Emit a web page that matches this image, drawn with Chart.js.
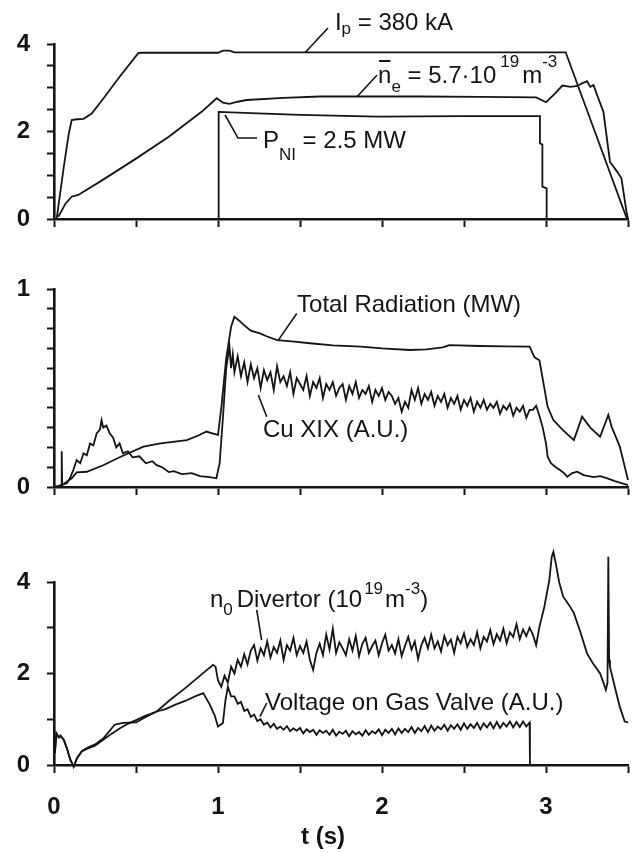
<!DOCTYPE html>
<html>
<head>
<meta charset="utf-8">
<title>Discharge traces</title>
<script src="https://cdn.jsdelivr.net/npm/chart.js@4.4.0/dist/chart.umd.min.js"></script>
<style>
  html, body { margin: 0; padding: 0; background: #fff; }
  #wrap { position: relative; width: 632px; height: 853px; overflow: hidden; background: #fff; }
  canvas { position: absolute; left: 0; }
</style>
</head>
<body>
<div id="wrap">
  <canvas id="topChart" width="632" height="250" style="top:0px"></canvas>
  <canvas id="midChart" width="632" height="270" style="top:250px"></canvas>
  <canvas id="botChart" width="632" height="333" style="top:520px"></canvas>
</div>
<script>
// ---- data (time in s) ----

// top panel
const ipTimes  = [0.016, 0.06, 0.09, 0.108, 0.14, 0.18, 0.23, 0.30, 0.40, 0.514, 0.53, 1.00, 1.03, 1.07, 1.10, 3.12, 3.49, 3.50];
const ipValues = [0, 1.2, 1.95, 2.26, 2.28, 2.29, 2.41, 2.75, 3.25, 3.79, 3.80, 3.80, 3.85, 3.85, 3.81, 3.81, 0.04, 0];

const neTimes  = [0.026, 0.07, 0.108, 0.148, 0.3, 0.5, 0.7, 0.9, 0.992, 1.03, 1.07, 1.12, 1.175, 1.4, 1.62, 2.23, 2.6, 2.94, 3.0, 3.05, 3.10, 3.15, 3.19, 3.22, 3.25, 3.27, 3.29, 3.31, 3.35, 3.39, 3.43, 3.46, 3.49, 3.5];
const neValues = [0.05, 0.35, 0.51, 0.55, 0.90, 1.38, 1.88, 2.45, 2.76, 2.66, 2.63, 2.68, 2.72, 2.77, 2.80, 2.80, 2.79, 2.78, 2.67, 2.85, 3.05, 3.02, 3.04, 3.10, 3.15, 3.02, 3.06, 2.85, 2.45, 1.31, 1.10, 0.93, 0.18, 0];

const pniTimes  = [1.0, 1.0, 1.006, 1.006, 1.2, 1.5, 1.97, 2.5, 2.963, 2.963, 2.978, 2.978, 3.004, 3.004];
const pniValues = [0, 1.31, 1.31, 2.45, 2.42, 2.38, 2.34, 2.35, 2.35, 1.73, 1.70, 0.74, 0.70, 0];

// middle panel
const radTimes  = [0, 0.05, 0.108, 0.138, 0.2, 0.3, 0.4, 0.545, 0.65, 0.81, 0.88, 0.93, 0.97, 1.0, 1.02, 1.05, 1.08, 1.10, 1.13, 1.155, 1.2, 1.256, 1.3, 1.36, 1.45, 1.56, 1.7, 1.87, 2.0, 2.17, 2.27, 2.37, 2.41, 2.6, 2.75, 2.90, 2.93, 2.96, 3.01, 3.045, 3.10, 3.17, 3.22, 3.27, 3.33, 3.38, 3.40, 3.45, 3.50];
const radValues = [0, 0.01, 0.044, 0.074, 0.077, 0.11, 0.15, 0.204, 0.22, 0.237, 0.26, 0.28, 0.27, 0.263, 0.40, 0.65, 0.81, 0.86, 0.84, 0.82, 0.79, 0.776, 0.76, 0.742, 0.735, 0.726, 0.715, 0.709, 0.700, 0.692, 0.695, 0.705, 0.717, 0.712, 0.710, 0.709, 0.655, 0.64, 0.405, 0.338, 0.29, 0.237, 0.355, 0.30, 0.254, 0.364, 0.305, 0.204, 0.035];

// sample times of the noisy stretch shared by Cu XIX, n0 and the valve voltage
const gridTimes = [
  1.10, 1.12, 1.14, 1.16, 1.18, 1.20, 1.22, 1.24, 1.26, 1.28,
  1.30, 1.32, 1.34, 1.36, 1.38, 1.40, 1.42, 1.44, 1.46, 1.48,
  1.50, 1.52, 1.54, 1.56, 1.58, 1.60, 1.62, 1.64, 1.66, 1.68,
  1.70, 1.72, 1.74, 1.76, 1.78, 1.80, 1.82, 1.84, 1.86, 1.88,
  1.90, 1.92, 1.94, 1.96, 1.98, 2.00, 2.02, 2.04, 2.06, 2.08,
  2.10, 2.12, 2.14, 2.16, 2.18, 2.20, 2.22, 2.24, 2.26, 2.28,
  2.30, 2.32, 2.34, 2.36, 2.38, 2.40, 2.42, 2.44, 2.46, 2.48,
  2.50, 2.52, 2.54, 2.56, 2.58, 2.60, 2.62, 2.64, 2.66, 2.68,
  2.70, 2.72, 2.74, 2.76, 2.78, 2.80, 2.82, 2.84, 2.86, 2.88,
  2.90
];

const cuHeadTimes  = [0, 0.03, 0.044, 0.047, 0.05, 0.08, 0.10, 0.118, 0.138, 0.16, 0.18, 0.20, 0.22, 0.24, 0.26, 0.28, 0.29, 0.30, 0.32, 0.34, 0.36, 0.38, 0.40, 0.42, 0.45, 0.48, 0.52, 0.56, 0.60, 0.626, 0.66, 0.70, 0.73, 0.78, 0.84, 0.89, 0.95, 0.99, 1.01, 1.03, 1.05, 1.07, 1.08, 1.09];
const cuHeadValues = [0, 0.005, 0.01, 0.18, 0.01, 0.02, 0.05, 0.086, 0.136, 0.12, 0.17, 0.16, 0.22, 0.21, 0.27, 0.29, 0.338, 0.30, 0.31, 0.27, 0.25, 0.20, 0.22, 0.17, 0.18, 0.15, 0.155, 0.12, 0.13, 0.11, 0.10, 0.075, 0.08, 0.065, 0.07, 0.055, 0.05, 0.044, 0.12, 0.35, 0.60, 0.709, 0.60, 0.67];
const cuGridValues = [
  0.58, 0.66, 0.56, 0.63, 0.53, 0.62, 0.55, 0.60, 0.50, 0.59,
  0.54, 0.58, 0.49, 0.61, 0.53, 0.56, 0.51, 0.58, 0.47, 0.55,
  0.52, 0.49, 0.56, 0.46, 0.53, 0.50, 0.55, 0.45, 0.52, 0.49,
  0.53, 0.46, 0.50, 0.52, 0.44, 0.51, 0.47, 0.53, 0.45, 0.49,
  0.47, 0.51, 0.43, 0.49, 0.46, 0.50, 0.44, 0.48, 0.46, 0.42,
  0.45, 0.38, 0.43, 0.40, 0.49, 0.44, 0.50, 0.42, 0.47, 0.44,
  0.48, 0.41, 0.46, 0.43, 0.47, 0.40, 0.45, 0.42, 0.46, 0.39,
  0.44, 0.41, 0.45, 0.38, 0.43, 0.40, 0.44, 0.39, 0.42, 0.40,
  0.43, 0.37, 0.41, 0.39, 0.42, 0.36, 0.40, 0.38, 0.41, 0.35,
  0.39
];
const cuTailTimes  = [2.92, 2.94, 2.96, 2.98, 3.00, 3.01, 3.03, 3.06, 3.085, 3.11, 3.13, 3.16, 3.19, 3.23, 3.29, 3.33, 3.37, 3.42, 3.48, 3.50];
const cuTailValues = [0.39, 0.41, 0.36, 0.30, 0.22, 0.153, 0.12, 0.10, 0.086, 0.07, 0.052, 0.07, 0.077, 0.06, 0.05, 0.055, 0.045, 0.03, 0.015, 0.01];

// bottom panel
const n0HeadTimes  = [0.005, 0.015, 0.03, 0.04, 0.06, 0.08, 0.10, 0.12, 0.14, 0.17, 0.20, 0.25, 0.30, 0.35, 0.40, 0.45, 0.50, 0.56, 0.626, 0.70, 0.80, 0.90, 0.97, 0.985, 1.00, 1.02, 1.04, 1.06, 1.08];
const n0HeadValues = [0.26, 0.69, 0.60, 0.64, 0.55, 0.35, 0.11, -0.04, 0.15, 0.30, 0.35, 0.42, 0.55, 0.68, 0.80, 0.90, 0.98, 1.08, 1.17, 1.40, 1.68, 1.98, 2.19, 2.15, 1.85, 1.71, 1.95, 1.80, 2.15];
const n0GridValues = [
  2.00, 2.30, 2.15, 2.42, 2.20, 2.50, 2.62, 2.28, 2.55, 2.40,
  2.70, 2.35, 2.58, 2.45, 2.72, 2.30, 2.62, 2.50, 2.78, 2.40,
  2.60, 2.45, 2.70, 2.30, 2.08, 2.45, 2.65, 2.40, 2.85, 2.52,
  2.98, 2.45, 2.68, 2.55, 2.40, 2.75, 2.50, 2.82, 2.38, 2.65,
  2.78, 2.45, 2.60, 2.72, 2.40, 2.66, 2.85, 2.50, 2.62, 2.44,
  2.75, 2.38, 2.60, 2.80, 2.52, 2.70, 2.32, 2.62, 2.78, 2.55,
  2.85, 2.55, 2.70, 2.48, 2.82, 2.62, 2.74, 2.45, 2.80, 2.66,
  2.88, 2.58, 2.75, 2.62, 2.90, 2.55, 2.80, 2.70, 2.95, 2.64,
  2.86, 2.72, 2.98, 2.66, 2.90, 2.80, 3.08, 2.75, 2.96, 2.82,
  3.00
];
const n0TailTimes  = [2.92, 2.94, 2.96, 2.99, 3.02, 3.035, 3.045, 3.06, 3.08, 3.105, 3.14, 3.17, 3.21, 3.25, 3.29, 3.33, 3.355, 3.365, 3.375, 3.38, 3.385, 3.39, 3.42, 3.45, 3.48, 3.50];
const n0TailValues = [2.85, 2.62, 3.02, 3.46, 4.04, 4.55, 4.66, 4.40, 4.00, 3.68, 3.50, 3.32, 2.90, 2.44, 2.20, 2.00, 1.75, 1.64, 1.80, 4.55, 2.30, 2.15, 1.70, 1.27, 0.95, 0.93];

const valveHeadTimes  = [0.005, 0.015, 0.03, 0.04, 0.06, 0.08, 0.10, 0.12, 0.14, 0.17, 0.20, 0.25, 0.30, 0.37, 0.42, 0.50, 0.56, 0.626, 0.68, 0.74, 0.80, 0.86, 0.91, 0.95, 0.98, 1.00, 1.03, 1.045, 1.06, 1.08];
const valveHeadValues = [0.26, 0.69, 0.60, 0.64, 0.55, 0.35, 0.11, -0.04, 0.15, 0.30, 0.37, 0.45, 0.58, 0.88, 0.92, 0.93, 1.05, 1.17, 1.22, 1.32, 1.40, 1.50, 1.57, 1.32, 1.08, 0.84, 0.92, 1.40, 1.71, 1.50];
const valveGridValues = [
  1.50, 1.34, 1.38, 1.18, 1.22, 1.05, 1.10, 0.96, 1.00, 0.88,
  0.93, 0.82, 0.90, 0.79, 0.84, 0.77, 0.85, 0.74, 0.80, 0.75,
  0.81, 0.69, 0.78, 0.72, 0.77, 0.66, 0.76, 0.70, 0.75, 0.66,
  0.77, 0.64, 0.73, 0.68, 0.75, 0.63, 0.74, 0.67, 0.72, 0.64,
  0.76, 0.66, 0.74, 0.69, 0.78, 0.65, 0.77, 0.70, 0.79, 0.67,
  0.80, 0.70, 0.79, 0.72, 0.83, 0.70, 0.81, 0.74, 0.85, 0.72,
  0.86, 0.75, 0.84, 0.78, 0.88, 0.75, 0.87, 0.79, 0.89, 0.77,
  0.91, 0.79, 0.89, 0.81, 0.92, 0.78, 0.91, 0.82, 0.93, 0.80,
  0.94, 0.81, 0.92, 0.84, 0.95, 0.82, 0.94, 0.83, 0.95, 0.84,
  0.93
];
const valveTailTimes  = [2.902, 2.902];
const valveTailValues = [0.90, 0];

// ---- drawing ----
const INK = '#141414';
const FONT = '"Liberation Sans", Arial, Helvetica, sans-serif';

function toPoints(times, values) {
  return times.map((t, i) => ({ x: t, y: values[i] }));
}

function isMultiple(v, step) {
  const r = v / step;
  return Math.abs(r - Math.round(r)) < 1e-6;
}

// labels with leader lines, positioned in data units
function drawNotes(chart, notes) {
  const ctx = chart.ctx;
  const xs = chart.scales.x;
  const ys = chart.scales.y;
  ctx.save();
  ctx.strokeStyle = INK;
  ctx.fillStyle = INK;
  ctx.lineWidth = 1.6;
  ctx.textAlign = 'left';
  ctx.textBaseline = 'alphabetic';
  notes.forEach((note) => {
    ctx.beginPath();
    note.leader.forEach((p, i) => {
      const px = xs.getPixelForValue(p[0]);
      const py = ys.getPixelForValue(p[1]);
      if (i === 0) ctx.moveTo(px, py); else ctx.lineTo(px, py);
    });
    ctx.stroke();

    let x = xs.getPixelForValue(note.at[0]);
    const y = ys.getPixelForValue(note.at[1]);
    note.parts.forEach((part) => {
      ctx.font = (part.small ? '17px ' : '24px ') + FONT;
      ctx.fillText(part.t, x, y + (part.dy || 0));
      const w = ctx.measureText(part.t).width;
      if (part.bar) {
        ctx.lineWidth = 2;
        ctx.beginPath();
        ctx.moveTo(x + 1, y - 22);
        ctx.lineTo(x + w - 1, y - 22);
        ctx.stroke();
        ctx.lineWidth = 1.6;
      }
      x += w + (part.gap || 0);
    });
  });
  ctx.restore();
}

function createPanel(canvasId, cfg) {
  const canvas = document.getElementById(canvasId);

  const chart = new Chart(canvas.getContext('2d'), {
    type: 'line',
    data: {
      datasets: cfg.series.map((s) => ({
        data: s,
        borderColor: INK,
        borderWidth: 1.8,
        pointRadius: 0,
        tension: 0,
        fill: false,
        clip: false
      }))
    },
    options: {
      responsive: false,
      animation: false,
      devicePixelRatio: 1,
      layout: { padding: { top: cfg.padTop, right: 4, bottom: 0, left: 0 } },
      plugins: {
        legend: { display: false },
        tooltip: { enabled: false }
      },
      scales: {
        x: {
          type: 'linear',
          min: 0,
          max: 3.5,
          afterFit: (scale) => { scale.height = cfg.xHeight; },
          border: { display: true, width: 2.6, color: INK },
          grid: { drawOnChartArea: false, drawTicks: true, tickLength: 8, tickWidth: 2, color: INK },
          ticks: {
            stepSize: 0.5,
            autoSkip: false,
            maxRotation: 0,
            padding: 0,
            color: INK,
            // tall line box pushes the labels down without widening the side padding
            font: { family: FONT, size: 24, weight: 'bold', lineHeight: '69px' },
            callback: (v) => (cfg.xLabels && isMultiple(v, 1) ? String(v) : '')
          }
        },
        y: {
          min: 0,
          max: cfg.yMax,
          afterFit: (scale) => { scale.width = 54; },
          border: { display: true, width: 2.6, color: INK },
          grid: { drawOnChartArea: false, drawTicks: true, tickLength: 7, tickWidth: 2, color: INK },
          ticks: {
            stepSize: cfg.yStep,
            autoSkip: false,
            padding: 17,
            color: INK,
            font: { family: FONT, size: 24, weight: 'bold', lineHeight: 1 },
            callback: (v) => (isMultiple(v, cfg.yLabelStep) ? String(Math.round(v)) : '')
          }
        }
      }
    },
    plugins: [{
      id: 'notes',
      afterDraw: (c) => {
        drawNotes(c, cfg.notes);
        if (cfg.afterDraw) cfg.afterDraw(c);
      }
    }]
  });

  return chart;
}

const cuTimes = cuHeadTimes.concat(gridTimes, cuTailTimes);
const cuValues = cuHeadValues.concat(cuGridValues, cuTailValues);
const n0Times = n0HeadTimes.concat(gridTimes, n0TailTimes);
const n0Values = n0HeadValues.concat(n0GridValues, n0TailValues);
const valveTimes = valveHeadTimes.concat(gridTimes, valveTailTimes);
const valveValues = valveHeadValues.concat(valveGridValues, valveTailValues);

createPanel('topChart', {
  padTop: 44, xHeight: 31, yMax: 4, yStep: 0.5, yLabelStep: 2, xLabels: false,
  series: [toPoints(ipTimes, ipValues), toPoints(neTimes, neValues), toPoints(pniTimes, pniValues)],
  notes: [
    { leader: [[1.53, 3.80], [1.671, 4.366]], at: [1.713, 4.32],
      parts: [{ t: 'I' }, { t: 'p', small: true, dy: 4 }, { t: ' = 380 kA' }] },
    { leader: [[1.848, 2.795], [1.97, 3.29]], at: [1.976, 3.109],
      parts: [{ t: 'n', bar: true }, { t: 'e', small: true, dy: 9 }, { t: ' = 5.7·10', gap: 4 }, { t: '19', small: true, dy: -16, gap: 3 }, { t: 'm' }, { t: '-3', small: true, dy: -16 }] },
    { leader: [[1.043, 2.377], [1.122, 1.851], [1.238, 1.851]], at: [1.274, 1.623],
      parts: [{ t: 'P' }, { t: 'NI', small: true, dy: 12 }, { t: ' = 2.5 MW' }] }
  ]
});

createPanel('midChart', {
  padTop: 39, xHeight: 33, yMax: 1, yStep: 0.1, yLabelStep: 1, xLabels: false,
  series: [toPoints(radTimes, radValues), toPoints(cuTimes, cuValues)],
  notes: [
    { leader: [[1.368, 0.742], [1.48, 0.876]], at: [1.482, 0.884],
      parts: [{ t: 'Total Radiation (MW)' }] },
    { leader: [[1.246, 0.465], [1.297, 0.355]], at: [1.274, 0.2525],
      parts: [{ t: 'Cu XIX (A.U.)' }] }
  ]
});

createPanel('botChart', {
  padTop: 62, xHeight: 88, yMax: 4, yStep: 1, yLabelStep: 2, xLabels: true,
  series: [toPoints(n0Times, n0Values), toPoints(valveTimes, valveValues)],
  notes: [
    { leader: [[1.236, 3.39], [1.266, 2.73]], at: [0.951, 3.453],
      parts: [{ t: 'n' }, { t: '0', small: true, dy: 8, gap: 4 }, { t: 'Divertor (10', gap: 2 }, { t: '19', small: true, dy: -13, gap: 2 }, { t: 'm' }, { t: '-3', small: true, dy: -13 }, { t: ')' }] },
    { leader: [[1.297, 1.355], [1.256, 1.056]], at: [1.287, 1.202],
      parts: [{ t: 'Voltage on Gas Valve (A.U.)' }] }
  ],
  afterDraw: (c) => {
    const ctx = c.ctx;
    ctx.save();
    ctx.fillStyle = INK;
    ctx.font = 'bold 24px ' + FONT;
    ctx.textAlign = 'center';
    ctx.textBaseline = 'alphabetic';
    ctx.fillText('t (s)', 323, 324);
    ctx.restore();
  }
});
</script>
</body>
</html>
